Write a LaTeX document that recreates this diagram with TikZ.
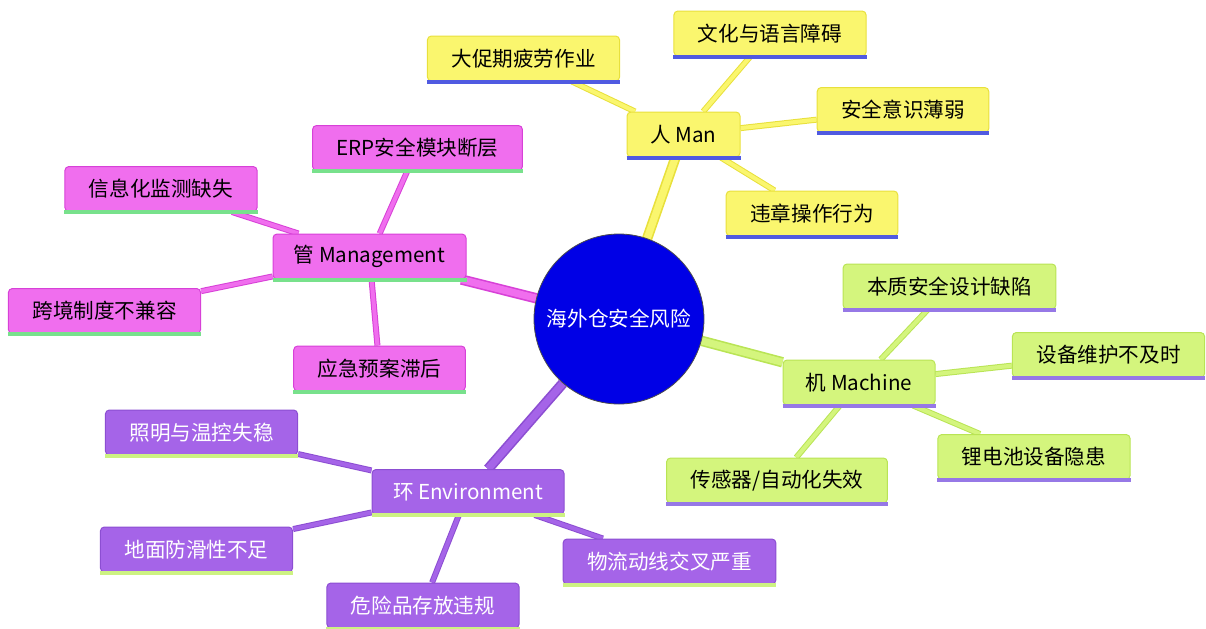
\documentclass[tikz,border=0pt]{standalone}
\usepackage{fontspec}
\setmainfont{Noto Sans CJK SC}
\usetikzlibrary{backgrounds}

\definecolor{manfill}{RGB}{250,246,110}
\definecolor{manline}{RGB}{232,224,60}
\definecolor{manbar}{RGB}{80,90,225}
\definecolor{mgtfill}{RGB}{240,110,238}
\definecolor{mgtline}{RGB}{215,65,215}
\definecolor{mgtbar}{RGB}{120,225,140}
\definecolor{macfill}{RGB}{212,245,125}
\definecolor{macline}{RGB}{185,228,85}
\definecolor{macbar}{RGB}{150,120,230}
\definecolor{envfill}{RGB}{165,100,232}
\definecolor{envline}{RGB}{140,78,210}
\definecolor{envbar}{RGB}{205,242,130}
\definecolor{hubfill}{RGB}{0,0,230}

\begin{document}
\begin{tikzpicture}[x=0.5pt,y=-0.5pt,
  box/.style={draw=#1line, fill=#1fill, rounded corners=2pt, line width=0.5pt,
    inner xsep=12pt, minimum height=22.5pt, font=\fontsize{10.3}{12}\selectfont},
  head/.style={box=#1, inner xsep=8pt},
  hub/.style={circle, draw=black!70, fill=hubfill, text=white, inner sep=0pt,
    minimum size=85pt, font=\fontsize{10.3}{12}\selectfont},
  branch/.style={draw=#1line, double=#1fill, line width=0.8pt, double distance=3.6pt},
  twig/.style={draw=#1line, double=#1fill, line width=0.5pt, double distance=2pt},
  bar/.style={draw=#1bar, line width=2pt}]
	\useasboundingbox (0,0) rectangle (1206,628);
	% centre
	\node[hub] (H) at (619,319) {海外仓安全风险};
	% 人
	\node[head=man, minimum width=56.5pt] (man0) at (683.5,134.5) {人 Man};
	\node[box=man] (man1) at (523.5,58.5) {大促期疲劳作业};
	\node[box=man] (man2) at (770,33.5) {文化与语言障碍};
	\node[box=man] (man3) at (903,110) {安全意识薄弱};
	\node[box=man] (man4) at (812,213.5) {违章操作行为};
	% 管
	\node[head=mgt, minimum width=96.5pt] (mgt0) at (369.5,256.5) {管 Management};
	\node[box=mgt] (mgt1) at (417.5,148) {ERP安全模块断层};
	\node[box=mgt] (mgt2) at (161,189) {信息化监测缺失};
	\node[box=mgt] (mgt3) at (104.5,311) {跨境制度不兼容};
	\node[box=mgt] (mgt4) at (379.5,368.5) {应急预案滞后};
	% 机
	\node[head=mac, minimum width=76pt] (mac0) at (859,382.5) {机 Machine};
	\node[box=mac] (mac1) at (949.5,286.5) {本质安全设计缺陷};
	\node[box=mac] (mac2) at (1108.5,355) {设备维护不及时};
	\node[box=mac] (mac3) at (1034,457) {锂电池设备隐患};
	\node[box=mac] (mac4) at (777,480.5) {传感器/自动化失效};
	% 环
	\node[head=env, text=white, minimum width=96pt] (env0) at (468,492) {环 Environment};
	\node[box=env, text=white] (env1) at (201.5,432.5) {照明与温控失稳};
	\node[box=env, text=white] (env2) at (196.5,549.5) {地面防滑性不足};
	\node[box=env, text=white] (env3) at (423,605.5) {危险品存放违规};
	\node[box=env, text=white] (env4) at (669.5,561.5) {物流动线交叉严重};
	% bottom bars
	\foreach \g in {man,mgt,mac,env}
	  \foreach \i in {0,...,4}
	    \draw[bar=\g] (\g\i.south west) -- (\g\i.south east);
	% connectors
	\begin{scope}[on background layer]
	  \foreach \g in {man,mgt,mac,env} {
	    \draw[branch=\g] (H) -- (\g0);
	    \foreach \i in {1,...,4}
	      \draw[twig=\g] (\g0) -- (\g\i);
	  }
	\end{scope}
\end{tikzpicture}
\end{document}
